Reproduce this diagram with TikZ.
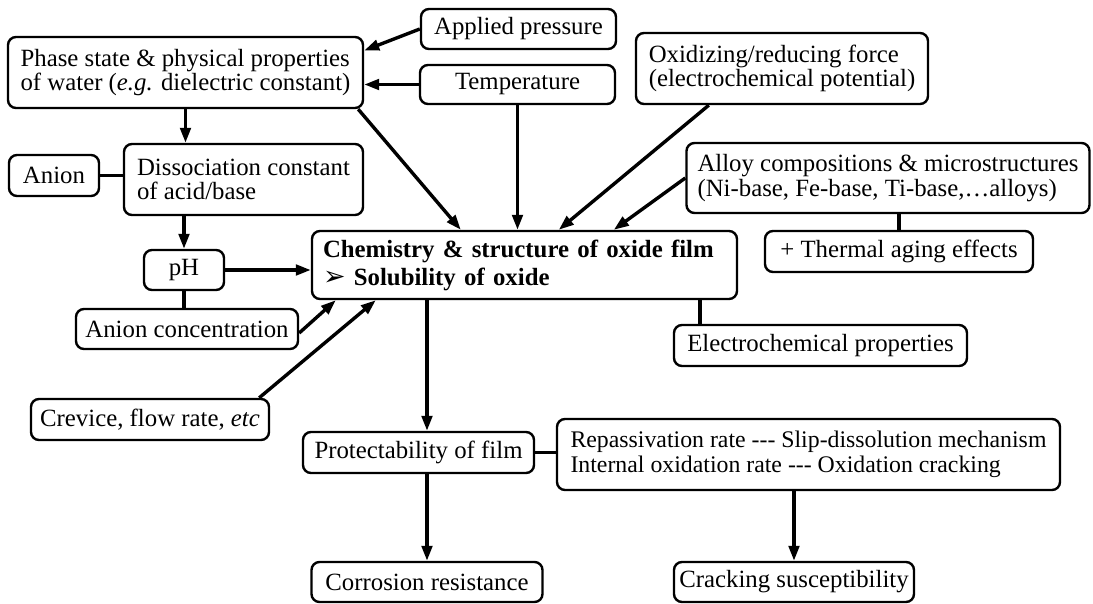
\documentclass[tikz,border=0pt]{standalone}
\usepackage{fontspec}
\setmainfont{Liberation Serif}
\newfontfamily\symfont{DejaVu Sans}
\usepackage{tikz}
\usetikzlibrary{positioning,arrows.meta}
\newcommand{\boxfont}{\fontsize{24.8}{24.5}\selectfont}
\tikzset{
  factor/.style={draw,line width=2.4pt,rounded corners=8pt,inner sep=0pt,align=left,font=\boxfont},
  arr/.style={line width=3.4pt,-{Triangle[length=15pt,width=10.5pt]}},
  link/.style={line width=3.4pt}
}

\begin{document}
\begin{tikzpicture}[x=1pt,y=-1pt]
            \useasboundingbox (0,0) rectangle (1093,603);
            \node[factor,minimum width=355,minimum height=71] (phase) at (185.5,72.5)
              {Phase state \& physical properties\\of water (\textit{e.g.} dielectric constant)};
            \node[factor,minimum width=195,minimum height=40] (press) at (518.5,29) {Applied pressure};
            \node[factor,minimum width=195,minimum height=39] (temp) at (517.5,84.5) {Temperature};
            \node[factor,minimum width=292,minimum height=71] (oxid) at (782,68.5)
              {Oxidizing/reducing force\\(electrochemical potential)};
            \node[factor,minimum width=403,minimum height=70] (alloy) at (888,178)
              {Alloy compositions \& microstructures\\(Ni-base, Fe-base, Ti-base,\dots alloys)};
            \node[factor,minimum width=268,minimum height=41] (aging) at (899,251.5) {+ Thermal aging effects};
            \node[factor,minimum width=239,minimum height=71] (diss) at (243.5,179.5)
              {Dissociation constant\\of acid/base};
            \node[factor,minimum width=90,minimum height=41] (anion) at (54,175.5) {Anion};
            \node[factor,minimum width=80,minimum height=40] (ph) at (184,270) {pH};
            \node[factor,minimum width=222,minimum height=40] (aconc) at (187,329) {Anion concentration};
            \node[factor,minimum height=68,text width=403,inner xsep=11pt,font=\fontsize{24.8}{28}\selectfont\bfseries]
              (chem) at (524.5,265)
              {Chemistry \& structure of oxide film\\{\symfont\mdseries\fontsize{27}{28}\selectfont ➢} Solubility of oxide};
            \node[factor,minimum width=238,minimum height=41] (crev) at (150,419.5) {Crevice, flow rate, \textit{etc}};
            \node[factor,minimum width=293,minimum height=41] (elec) at (820.5,345.5) {Electrochemical properties};
            \node[factor,minimum width=231,minimum height=41] (prot) at (418.5,452.5) {Protectability of film};
            \node[factor,minimum width=231,minimum height=40] (corr) at (427,582) {Corrosion resistance};
            \node[factor,minimum width=503,minimum height=71,font=\fontsize{23.8}{24.5}\selectfont] (repass) at (808.5,454.5)
              {Repassivation rate -{}-{}- Slip-dissolution mechanism\\Internal oxidation rate -{}-{}- Oxidation cracking};
            \node[factor,minimum width=240,minimum height=40] (crack) at (794,582) {Cracking susceptibility};

            \draw[arr] (press.west) -- ([yshift=22pt]phase.east);
            \draw[arr] (temp.west) -- (temp.west -| phase.east);
            \draw[arr] ([xshift=-6pt]phase.south east) -- ([xshift=150pt]chem.north west);
            \draw[arr] (temp.south) -- (temp.south |- chem.north);
            \draw[arr] ([xshift=74pt]oxid.south west) -- ([xshift=248pt]chem.north west);
            \draw[arr] (alloy.west) -- ([xshift=303pt]chem.north west);
            \draw[link] (aging.north |- alloy.south) -- (aging.north);
            \draw[arr] (phase.south) -- (phase.south |- diss.north);
            \draw[link] (anion.east) -- (anion.east -| diss.west);
            \draw[arr] (ph.north |- diss.south) -- (ph.north);
            \draw[arr] (ph.east) -- (ph.east -| chem.west);
            \draw[link] (ph.south) -- (ph.south |- aconc.north);
            \draw[arr] ([yshift=-4pt]aconc.east) -- ([xshift=25pt]chem.south west);
            \draw[arr] ([xshift=-11pt]crev.north east) -- ([xshift=65pt]chem.south west);
            \draw[link] ([xshift=27pt]elec.north west) coordinate (e) -- (e |- chem.south);
            \draw[arr] (corr.north |- chem.south) -- (corr.north |- prot.north);
            \draw[arr] (corr.north |- prot.south) -- (corr.north);
            \draw[link] (prot.east) -- (prot.east -| repass.west);
            \draw[arr] (crack.north |- repass.south) -- (crack.north);
          \end{tikzpicture}
\end{document}
